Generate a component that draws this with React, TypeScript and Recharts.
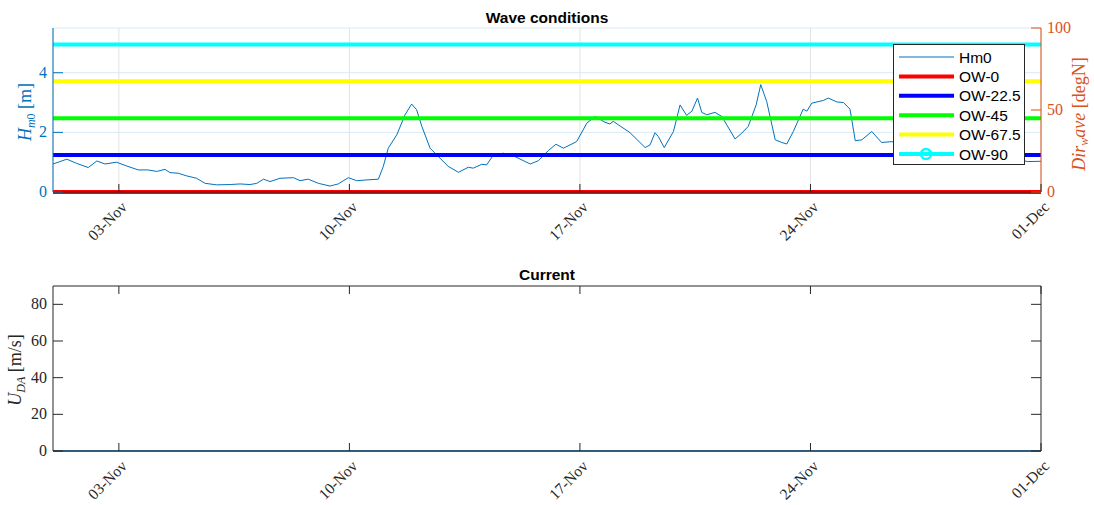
import { ComposedChart, Line, XAxis, YAxis, CartesianGrid, Legend } from "recharts";

// days since 01-Nov
const tickDays = [2, 9, 16, 23, 30];
const tickLabels = ["03-Nov", "10-Nov", "17-Nov", "24-Nov", "01-Dec"];

const hm0Days = [
  0, 0.42, 0.72, 1.07, 1.33, 1.58, 1.93, 2.24, 2.59, 2.89, 3.15, 3.4, 3.55, 3.8,
  4.06, 4.36, 4.62, 4.97, 5.38, 5.68, 5.98, 6.19, 6.39, 6.59, 6.89, 7.3, 7.5,
  7.75, 8.06, 8.41, 8.66, 8.97, 9.22, 9.47, 9.88, 10.03, 10.18, 10.44, 10.69,
  10.89, 11.04, 11.2, 11.45, 11.7, 12.0, 12.31, 12.61, 12.76, 13.02, 13.17,
  13.37, 13.67, 13.93, 14.49, 14.74, 15.04, 15.27, 15.5, 15.9, 16.21, 16.46,
  16.76, 16.91, 17.01, 17.52, 17.98, 18.13, 18.28, 18.38, 18.56, 18.84, 19.04,
  19.24, 19.4, 19.57, 19.7, 19.85, 20.1, 20.31, 20.71, 20.91, 21.11, 21.35,
  21.49, 21.67, 21.93, 22.13, 22.28, 22.48, 22.78, 22.89, 23.04, 23.39, 23.54,
  23.8, 24.0, 24.2, 24.36, 24.56, 24.86, 25.16, 25.47, 26.0, 26.5, 27.0, 27.5,
  28.0, 28.5, 29.0, 29.4, 29.58, 30,
];
const hm0Values = [
  0.94, 1.1, 0.96, 0.82, 1.04, 0.94, 1.0, 0.87, 0.74, 0.74, 0.69, 0.76, 0.65,
  0.63, 0.54, 0.46, 0.29, 0.24, 0.25, 0.27, 0.25, 0.29, 0.43, 0.35, 0.46, 0.48,
  0.38, 0.43, 0.29, 0.2, 0.27, 0.48, 0.38, 0.4, 0.43, 0.86, 1.47, 1.92, 2.59,
  2.95, 2.76, 2.2, 1.47, 1.19, 0.86, 0.66, 0.83, 0.8, 0.93, 0.91, 1.24, 1.3,
  1.24, 0.94, 1.05, 1.39, 1.6, 1.47, 1.69, 2.31, 2.53, 2.34, 2.28, 2.37, 1.99,
  1.49, 1.58, 1.99, 1.86, 1.49, 2.03, 2.92, 2.57, 2.71, 3.15, 2.67, 2.59, 2.67,
  2.53, 1.78, 1.97, 2.2, 2.92, 3.6, 3.04, 1.75, 1.66, 1.61, 2.03, 2.78, 2.71,
  2.98, 3.07, 3.15, 3.02, 3.0, 2.78, 1.72, 1.75, 2.03, 1.66, 1.69, 1.55, 1.7,
  1.45, 1.4, 1.3, 1.25, 1.15, 1.08, 1.02, 1.03,
];

const owNames = ["OW-0", "OW-22.5", "OW-45", "OW-67.5", "OW-90"];
const owAngles = [0, 22.5, 45, 67.5, 90];
const owColors = ["#ff0000", "#0000ff", "#00ff00", "#ffff00", "#00ffff"];
const owSpan = [0, 30];

const currentDays = [0, 5, 10, 15, 20, 25, 30];
const currentValues = [0, 0, 0, 0, 0, 0, 0];

const BLUE = "#0072BD";
const ORANGE = "#D95319";
const DARK = "#262626";
const SERIF = "'Liberation Serif', 'DejaVu Serif', serif";
const SANS = "'Liberation Sans', Arial, sans-serif";

const hm0Rows = hm0Days.map((day, i) => ({ day, hm0: hm0Values[i] }));
const owRows = owSpan.map((day) => {
  const row: any = { day };
  owAngles.forEach((a, i) => {
    row["ow" + i] = a;
  });
  return row;
});
const currentRows = currentDays.map((day, i) => ({ day, u: currentValues[i] }));

function dateLabel(v: number) {
  const i = tickDays.indexOf(v);
  return i >= 0 ? tickLabels[i] : "";
}

function BottomDateTick(props: any) {
  const { x, y, payload } = props;
  return (
    <g>
      <line x1={x} y1={y} x2={x} y2={y - 8} stroke={DARK} strokeWidth={1} />
      <text
        x={x + 9}
        y={y + 16}
        transform={`rotate(-45, ${x + 9}, ${y + 16})`}
        textAnchor="end"
        fontFamily={SERIF}
        fontSize={15.5}
        fill={DARK}
      >
        {dateLabel(payload.value)}
      </text>
    </g>
  );
}

function TopMirrorTick(props: any) {
  const { x, y } = props;
  return <line x1={x} y1={y} x2={x} y2={y + 8} stroke={DARK} strokeWidth={1} />;
}

function leftTick(color: string) {
  return (props: any) => {
    const { x, y, payload } = props;
    return (
      <g>
        <line x1={x} y1={y} x2={x + 10} y2={y} stroke={color} strokeWidth={1} />
        <text x={x - 6} y={y + 5} textAnchor="end" fontFamily={SERIF} fontSize={16} fill={color}>
          {payload.value}
        </text>
      </g>
    );
  };
}

function rightTick(color: string, showText: boolean) {
  return (props: any) => {
    const { x, y, payload } = props;
    return (
      <g>
        <line x1={x} y1={y} x2={x - 10} y2={y} stroke={color} strokeWidth={1} />
        {showText && (
          <text x={x + 6} y={y + 5} textAnchor="start" fontFamily={SERIF} fontSize={16} fill={color}>
            {payload.value}
          </text>
        )}
      </g>
    );
  };
}

function HmLabel() {
  return (
    <text transform="translate(31, 112) rotate(-90)" textAnchor="middle" fontFamily={SERIF} fontSize={18} fill={BLUE}>
      <tspan fontStyle="italic">H</tspan>
      <tspan fontSize={12} dy={4} fontStyle="italic">m</tspan>
      <tspan fontSize={12}>0</tspan>
      <tspan dy={-4}> [m]</tspan>
    </text>
  );
}

function DirLabel() {
  return (
    <text transform="translate(1085, 114) rotate(-90)" textAnchor="middle" fontFamily={SERIF} fontSize={18} fill={ORANGE}>
      <tspan fontStyle="italic">Dir</tspan>
      <tspan fontSize={12} dy={3} fontStyle="italic">w</tspan>
      <tspan dy={-3} fontStyle="italic">ave</tspan>
      <tspan> [degN]</tspan>
    </text>
  );
}

function ULabel() {
  return (
    <text transform="translate(21, 110) rotate(-90)" textAnchor="middle" fontFamily={SERIF} fontSize={18} fill={DARK}>
      <tspan fontStyle="italic">U</tspan>
      <tspan fontSize={12} dy={4} fontStyle="italic">DA</tspan>
      <tspan dy={-4}> [m/s]</tspan>
    </text>
  );
}

function WaveLegend() {
  const items = [
    { name: "Hm0", color: BLUE, width: 1, marker: false },
    ...owNames.map((n, i) => ({ name: n, color: owColors[i], width: 4, marker: i === 4 })),
  ];
  return (
    <svg width={132} height={121} style={{ display: "block" }}>
      <rect x={0.5} y={0.5} width={131} height={120} fill="#fff" stroke={DARK} strokeWidth={1} />
      {items.map((it, i) => {
        const cy = 13 + i * 19.4;
        return (
          <g key={it.name}>
            <line x1={6} y1={cy} x2={61} y2={cy} stroke={it.color} strokeWidth={it.width} />
            {it.marker && <circle cx={33} cy={cy} r={5} fill="none" stroke={it.color} strokeWidth={2.5} />}
            <text x={66} y={cy + 5.5} fontFamily={SANS} fontSize={15.5} fill="#000">
              {it.name}
            </text>
          </g>
        );
      })}
    </svg>
  );
}

const titleStyle: any = {
  position: "absolute",
  left: 53,
  width: 988,
  textAlign: "center",
  fontFamily: SANS,
  fontWeight: "bold",
  fontSize: 15.5,
  color: "#000",
  lineHeight: "18px",
};

export default function App() {
  return (
    <div style={{ position: "absolute", left: 0, top: 0, width: 1094, height: 505, background: "#fff", overflow: "hidden" }}>
      <div style={{ ...titleStyle, top: 9 }}>Wave conditions</div>
      <div style={{ ...titleStyle, top: 266 }}>Current</div>

      <div style={{ position: "absolute", left: 0, top: 0 }}>
        <ComposedChart width={1094} height={260} data={hm0Rows} margin={{ top: 28, right: 0, bottom: 0, left: 0 }}>
          <CartesianGrid yAxisId="left" vertical={false} stroke="#d9eaf5" strokeWidth={1} />
          <CartesianGrid yAxisId="left" horizontal={false} stroke="#e3e3e3" strokeWidth={1} />
          <XAxis
            dataKey="day"
            type="number"
            domain={[0, 30]}
            ticks={tickDays}
            allowDataOverflow
            height={68}
            tickSize={0}
            tickMargin={0}
            tickLine={false}
            axisLine={{ stroke: DARK }}
            tick={<BottomDateTick />}
            interval={0}
          />
          <YAxis
            yAxisId="left"
            orientation="left"
            type="number"
            domain={[0, 5.5]}
            ticks={[0, 2, 4]}
            width={53}
            tickSize={0}
            tickMargin={0}
            tickLine={false}
            axisLine={{ stroke: BLUE }}
            tick={leftTick(BLUE)}
            label={HmLabel}
          />
          <YAxis
            yAxisId="right"
            orientation="right"
            type="number"
            domain={[0, 100]}
            ticks={[0, 50, 100]}
            width={53}
            tickSize={0}
            tickMargin={0}
            tickLine={false}
            axisLine={{ stroke: ORANGE }}
            tick={rightTick(ORANGE, true)}
            label={DirLabel}
          />
          <Line
            yAxisId="left"
            dataKey="hm0"
            name="Hm0"
            stroke={BLUE}
            strokeWidth={1}
            dot={false}
            activeDot={false}
            isAnimationActive={false}
          />
          {owNames.map((n, i) => (
            <Line
              key={n}
              yAxisId="right"
              data={owRows}
              dataKey={"ow" + i}
              name={n}
              stroke={owColors[i]}
              strokeWidth={4}
              dot={false}
              activeDot={false}
              isAnimationActive={false}
            />
          ))}
          <Legend
            layout="vertical"
            align="center"
            verticalAlign="middle"
            content={() => <WaveLegend />}
            wrapperStyle={{ position: "absolute", left: 893, top: 44, width: 132, height: 121 }}
          />
        </ComposedChart>
      </div>

      <div style={{ position: "absolute", left: 0, top: 260 }}>
        <ComposedChart width={1094} height={245} data={currentRows} margin={{ top: 25, right: 52, bottom: 0, left: 0 }}>
          <XAxis
            dataKey="day"
            type="number"
            domain={[0, 30]}
            ticks={tickDays}
            height={54}
            tickSize={0}
            tickMargin={0}
            tickLine={false}
            axisLine={{ stroke: DARK }}
            tick={<BottomDateTick />}
            interval={0}
          />
          <XAxis
            xAxisId="top"
            dataKey="day"
            type="number"
            orientation="top"
            domain={[0, 30]}
            ticks={tickDays}
            height={1}
            tickSize={0}
            tickMargin={0}
            tickLine={false}
            axisLine={{ stroke: DARK }}
            tick={<TopMirrorTick />}
            interval={0}
          />
          <YAxis
            yAxisId="left"
            orientation="left"
            type="number"
            domain={[0, 90]}
            ticks={[0, 20, 40, 60, 80]}
            width={53}
            tickSize={0}
            tickMargin={0}
            tickLine={false}
            axisLine={{ stroke: DARK }}
            tick={leftTick(DARK)}
            label={ULabel}
          />
          <YAxis
            yAxisId="right"
            orientation="right"
            type="number"
            domain={[0, 90]}
            ticks={[0, 20, 40, 60, 80]}
            width={1}
            tickSize={0}
            tickMargin={0}
            tickLine={false}
            axisLine={{ stroke: DARK }}
            tick={rightTick(DARK, false)}
          />
          <Line
            yAxisId="left"
            dataKey="u"
            stroke={BLUE}
            strokeWidth={1.5}
            dot={false}
            activeDot={false}
            isAnimationActive={false}
          />
          <Line
            yAxisId="right"
            xAxisId="top"
            dataKey="u"
            stroke="none"
            dot={false}
            activeDot={false}
            legendType="none"
            isAnimationActive={false}
          />
        </ComposedChart>
      </div>
    </div>
  );
}
